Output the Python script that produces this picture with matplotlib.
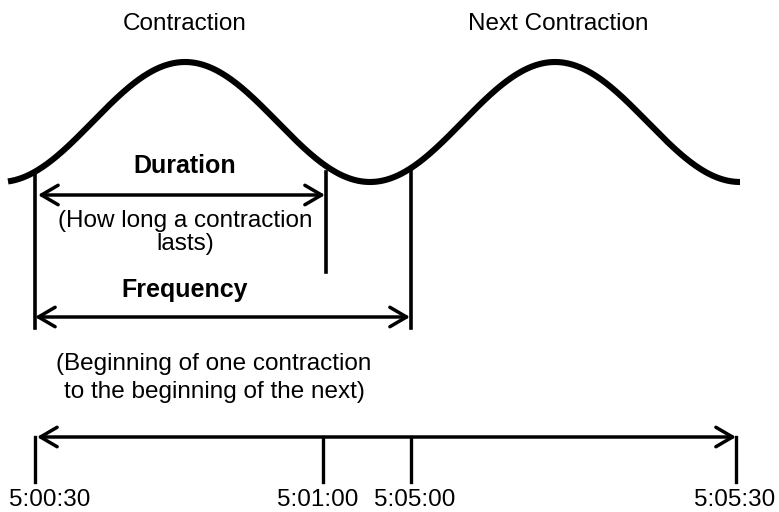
import numpy as np
import matplotlib.pyplot as plt

plt.rcParams['font.family'] = ['Liberation Sans', 'DejaVu Sans']

# wave shape (pixel units of the drawing)
wave_start, wave_end = 8, 740
wave_peak_x = 185      # first contraction peak
wave_period = 370
wave_mid = 122
wave_amp = 60

# marker lines
start_x = 35
duration_end_x = 326
next_start_x = 411

# timeline
tick_x = [35, 323, 411, 736]
tick_labels = ['5:00:30', '5:01:00', '5:05:00', '5:05:30']
label_x = [50, 318, 415, 735]

fig = plt.figure(figsize=(7.79, 5.12), dpi=100)
ax = fig.add_axes([0, 0, 1, 1])
ax.set_xlim(0, 779)
ax.set_ylim(512, 0)
ax.axis('off')

x = np.linspace(wave_start, wave_end, 600)
y = wave_mid - wave_amp * np.cos(2 * np.pi * (x - wave_peak_x) / wave_period)
ax.plot(x, y, color='black', lw=4.4, solid_capstyle='butt')


def arrow(x0, x1, yy, lw=2.5):
    ax.annotate('', xy=(x1, yy), xytext=(x0, yy),
                arrowprops=dict(arrowstyle='<->,head_length=0.6,head_width=0.35',
                                lw=lw, color='black', shrinkA=0, shrinkB=0,
                                mutation_scale=20))


# vertical markers
ax.plot([start_x, start_x], [173, 328], color='black', lw=2.6)
ax.plot([duration_end_x, duration_end_x], [172, 272], color='black', lw=2.6)
ax.plot([next_start_x, next_start_x], [170, 328], color='black', lw=2.6)

# duration / frequency arrows
arrow(start_x + 3, duration_end_x - 1, 195)
arrow(start_x, next_start_x - 1, 317)

fs = 17.5
ax.text(185, 30, 'Contraction', ha='center', va='baseline', fontsize=fs)
ax.text(558, 30, 'Next Contraction', ha='center', va='baseline', fontsize=fs)
ax.text(185, 173, 'Duration', ha='center', va='baseline', fontsize=18, fontweight='bold')
ax.text(185, 227, '(How long a contraction', ha='center', va='baseline', fontsize=fs)
ax.text(185, 250, 'lasts)', ha='center', va='baseline', fontsize=fs)
ax.text(185, 297, 'Frequency', ha='center', va='baseline', fontsize=18, fontweight='bold')
ax.text(214, 370, '(Beginning of one contraction', ha='center', va='baseline', fontsize=fs)
ax.text(214, 398, 'to the beginning of the next)', ha='center', va='baseline', fontsize=fs)

# timeline
arrow(tick_x[0] + 2, tick_x[-1], 437)
for tx, lx, lab in zip(tick_x, label_x, tick_labels):
    ax.plot([tx, tx], [437, 482], color='black', lw=2.4)
    ax.text(lx, 506, lab, ha='center', va='baseline', fontsize=fs)

fig.savefig('out.png', dpi=100)
